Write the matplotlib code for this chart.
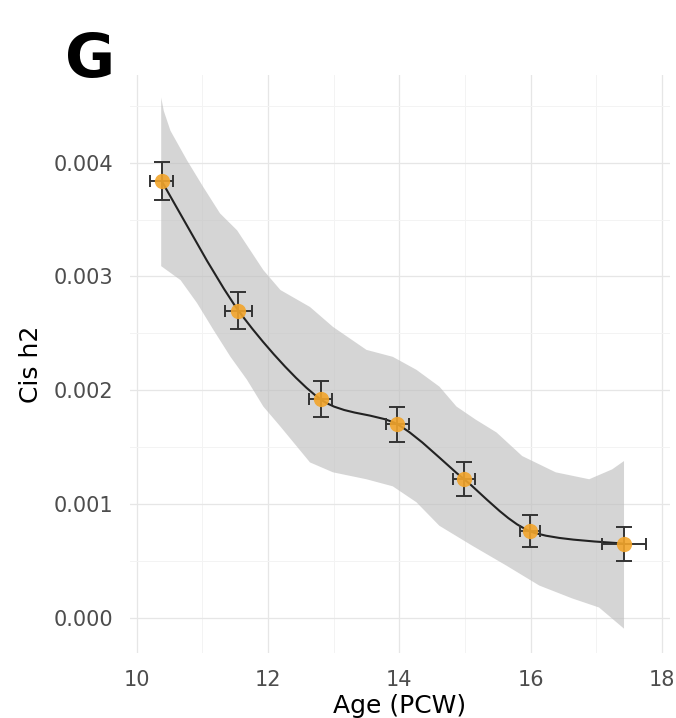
import numpy as np
import matplotlib
matplotlib.use("Agg")
import matplotlib.pyplot as plt
from matplotlib.path import Path
from matplotlib.patches import PathPatch
from matplotlib.ticker import FormatStrFormatter, MultipleLocator

# points (age in PCW, cis h2) with error bars
age = [10.38, 11.55, 12.80, 13.97, 14.98, 15.99, 17.42]
age_err = [0.18, 0.21, 0.17, 0.17, 0.17, 0.15, 0.33]
h2 = [0.00384, 0.00270, 0.00192, 0.00170, 0.00122, 0.00076, 0.00065]
h2_err = [0.000168, 0.000165, 0.00016, 0.000155, 0.000146, 0.000142, 0.000149]

# grey band, upper and lower edges
band_up_x = [10.375, 10.414, 10.516, 10.77, 11.017, 11.27, 11.53, 11.93, 12.19,
             12.64, 12.99, 13.50, 13.90, 14.26, 14.61, 14.87, 15.16, 15.48,
             15.87, 16.38, 16.89, 17.24, 17.42]
band_up = [0.004572, 0.004455, 0.004280, 0.004018, 0.003784, 0.003554, 0.003405,
           0.003055, 0.002880, 0.002731, 0.002556, 0.002354, 0.002293, 0.002179,
           0.002031, 0.001856, 0.001742, 0.001628, 0.001421, 0.001278, 0.001217,
           0.001304, 0.001377]
band_lo_x = [10.375, 10.67, 10.92, 11.17, 11.43, 11.68, 11.93, 12.19, 12.44,
             12.64, 12.99, 13.50, 13.90, 14.26, 14.61, 15.11, 15.63, 16.13,
             16.63, 17.04, 17.42]
band_lo = [0.003090, 0.002967, 0.002766, 0.002530, 0.002293, 0.002092, 0.001856,
           0.001680, 0.001505, 0.001365, 0.001278, 0.001217, 0.001155, 0.001015,
           0.000808, 0.000633, 0.000458, 0.000283, 0.000170, 0.000090, -0.000096]

xticks = [10, 12, 14, 16, 18]
yticks = [0.000, 0.001, 0.002, 0.003, 0.004]


def smooth_path(xs, ys, k=7.0):
    # catmull-rom style curve through the points, drawn as bezier segments
    pts = np.column_stack([xs, ys])
    n = len(pts)
    verts = [pts[0]]
    codes = [Path.MOVETO]
    for i in range(n - 1):
        p0 = pts[i - 1] if i > 0 else pts[i]
        p1 = pts[i]
        p2 = pts[i + 1]
        p3 = pts[i + 2] if i + 2 < n else pts[i + 1]
        verts += [p1 + (p2 - p0) / k, p2 - (p3 - p1) / k, p2]
        codes += [Path.CURVE4] * 3
    return Path(verts, codes)


fig = plt.figure(figsize=(6.76, 7.18), dpi=100)
ax = fig.add_axes([130 / 676, 65 / 718, 540 / 676, 578 / 718])

ax.set_xlim(9.9, 18.12)
ax.set_ylim(-0.00031, 0.00477)
ax.set_xticks(xticks)
ax.set_yticks(yticks)
ax.xaxis.set_minor_locator(MultipleLocator(1))
ax.yaxis.set_minor_locator(MultipleLocator(0.0005))
ax.yaxis.set_major_formatter(FormatStrFormatter('%.3f'))
ax.grid(True, which='major', color='#e6e6e6', lw=0.9, zorder=0)
ax.grid(True, which='minor', color='#f3f3f3', lw=0.7, zorder=0)
ax.set_axisbelow(True)
for s in ax.spines.values():
    s.set_visible(False)
ax.tick_params(which='both', length=0)
ax.tick_params(axis='x', labelsize=15, labelcolor='#4d4d4d', pad=12)
ax.tick_params(axis='y', labelsize=15, labelcolor='#4d4d4d', pad=12)

band_x = np.concatenate([band_up_x, band_lo_x[::-1]])
band_y = np.concatenate([band_up, band_lo[::-1]])
ax.fill(band_x, band_y, color='#bfbfbf', alpha=0.65, lw=0, zorder=1)

ax.add_patch(PathPatch(smooth_path(age, h2), fill=False, edgecolor='#222222',
                       lw=1.5, zorder=2))

ax.errorbar(age, h2, yerr=h2_err, fmt='none', ecolor='#333333', elinewidth=1.4,
            capsize=6, capthick=1.4, zorder=3)
ax.errorbar(age, h2, xerr=age_err, fmt='none', ecolor='#333333', elinewidth=1.4,
            capsize=4.5, capthick=1.4, zorder=3)
ax.plot(age, h2, 'o', color='#f2a52b', ms=11, mec='none', alpha=0.9, zorder=4)

ax.set_xlabel('Age (PCW)', fontsize=18, labelpad=3)
ax.set_ylabel('Cis h2', fontsize=18, labelpad=8)

fig.text(90 / 676, 1 - 77 / 718, 'G', ha='center', va='baseline',
         fontsize=44, fontweight='bold')

fig.savefig('out.png', dpi=100)
